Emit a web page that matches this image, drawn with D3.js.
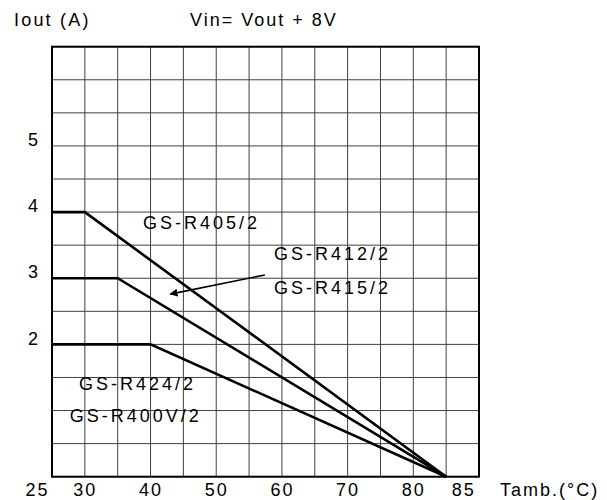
<!DOCTYPE html>
<html>
<head>
<meta charset="utf-8">
<script src="https://cdn.jsdelivr.net/npm/d3@7"></script>
<style>
  html, body { margin: 0; padding: 0; background: #fff; }
  svg { display: block; }
  text { font-family: "Liberation Sans", Arial, sans-serif; fill: #000; }
</style>
</head>
<body>
<svg id="chart" width="607" height="500"></svg>
<script>
// ---- data ----
const xTickValues = [25, 30, 40, 50, 60, 70, 80, 85];
const yTickValues = [2, 3, 4, 5];
const xGridValues = d3.range(25, 90.001, 5);
const yGridValues = d3.range(0, 6.5001, 0.5);

const tempR405 = [25, 30, 85];
const ioutR405 = [4, 4, 0];
const tempR412 = [25, 35, 85];
const ioutR412 = [3, 3, 0];
const tempR424 = [25, 40, 85];
const ioutR424 = [2, 2, 0];

const labelR405 = "GS-R405/2";
const labelR412 = "GS-R412/2";
const labelR415 = "GS-R415/2";
const labelR424 = "GS-R424/2";
const labelR400 = "GS-R400V/2";

// ---- layout ----
const svg = d3.select("#chart");
const pLeft = 52, pRight = 479, pTop = 46.7, pBottom = 476.7;
const x = d3.scaleLinear().domain([25, 90]).range([pLeft, pRight]);
const y = d3.scaleLinear().domain([0, 6.5]).range([pBottom, pTop]);

// grid
const grid = svg.append("g").attr("stroke", "#404040").attr("stroke-width", 1);
grid.selectAll("line.v").data(xGridValues).join("line").attr("class", "v")
  .attr("x1", d => x(d)).attr("x2", d => x(d))
  .attr("y1", pTop).attr("y2", pBottom);
grid.selectAll("line.h").data(yGridValues).join("line").attr("class", "h")
  .attr("x1", pLeft).attr("x2", pRight)
  .attr("y1", d => y(d)).attr("y2", d => y(d));

// frame
svg.append("rect")
  .attr("x", pLeft).attr("y", pTop)
  .attr("width", pRight - pLeft).attr("height", pBottom - pTop)
  .attr("fill", "none").attr("stroke", "#000").attr("stroke-width", 2);

// x axis labels
const xAxis = d3.axisBottom(x).tickValues(xTickValues).tickSize(0).tickPadding(7)
  .tickFormat(d3.format("d"));
const gx = svg.append("g").attr("transform", `translate(0,${pBottom})`).call(xAxis);
gx.select(".domain").remove();
gx.selectAll("text")
  .style("font-size", "18px")
  .style("letter-spacing", "2px")
  .attr("dx", d => d === 25 ? -15 : d === 85 ? 17 : 0);

// y axis labels
const yAxis = d3.axisLeft(y).tickValues(yTickValues).tickSize(0).tickPadding(14)
  .tickFormat(d3.format("d"));
const gy = svg.append("g").attr("transform", `translate(${pLeft},0)`).call(yAxis);
gy.select(".domain").remove();
gy.selectAll("text").style("font-size", "18px").attr("dy", "-0.02em");

// curves
const line = d3.line().x(d => x(d[0])).y(d => y(d[1]));
const curves = [
  d3.zip(tempR405, ioutR405),
  d3.zip(tempR412, ioutR412),
  d3.zip(tempR424, ioutR424)
];
svg.append("g").selectAll("path").data(curves).join("path")
  .attr("d", line)
  .attr("fill", "none").attr("stroke", "#000").attr("stroke-width", 2.6)
  .attr("stroke-linejoin", "miter");

// arrow
svg.append("defs").append("marker")
  .attr("id", "arr").attr("viewBox", "0 0 10 10")
  .attr("refX", 9).attr("refY", 5)
  .attr("markerWidth", 5).attr("markerHeight", 5)
  .attr("orient", "auto-start-reverse")
  .append("path").attr("d", "M0,0 L10,5 L0,10 z").attr("fill", "#000");
svg.append("line")
  .attr("x1", x(57.4)).attr("y1", y(3.05))
  .attr("x2", x(43.0)).attr("y2", y(2.76))
  .attr("stroke", "#000").attr("stroke-width", 1.6)
  .attr("marker-end", "url(#arr)");

// labels
const lab = svg.append("g").style("font-size", "18px").style("letter-spacing", "3px");
lab.append("text").attr("x", x(38.85)).attr("y", y(3.75)).text(labelR405);
lab.append("text").attr("x", x(58.8)).attr("y", y(3.27)).text(labelR412);
lab.append("text").attr("x", x(58.8)).attr("y", y(2.76)).text(labelR415);
lab.append("text").attr("x", x(29.1)).attr("y", y(1.31)).text(labelR424);
lab.append("text").attr("x", x(27.7)).attr("y", y(0.83)).text(labelR400);

// titles
svg.append("text").attr("x", 14).attr("y", 26)
  .style("font-size", "18px").style("letter-spacing", "2.2px").text("Iout (A)");
svg.append("text").attr("x", 190).attr("y", 26)
  .style("font-size", "18px").style("letter-spacing", "2px").text("Vin= Vout + 8V");
svg.append("text").attr("x", 500).attr("y", 496)
  .style("font-size", "18px").style("letter-spacing", "2px").text("Tamb.(°C)");
</script>
</body>
</html>
